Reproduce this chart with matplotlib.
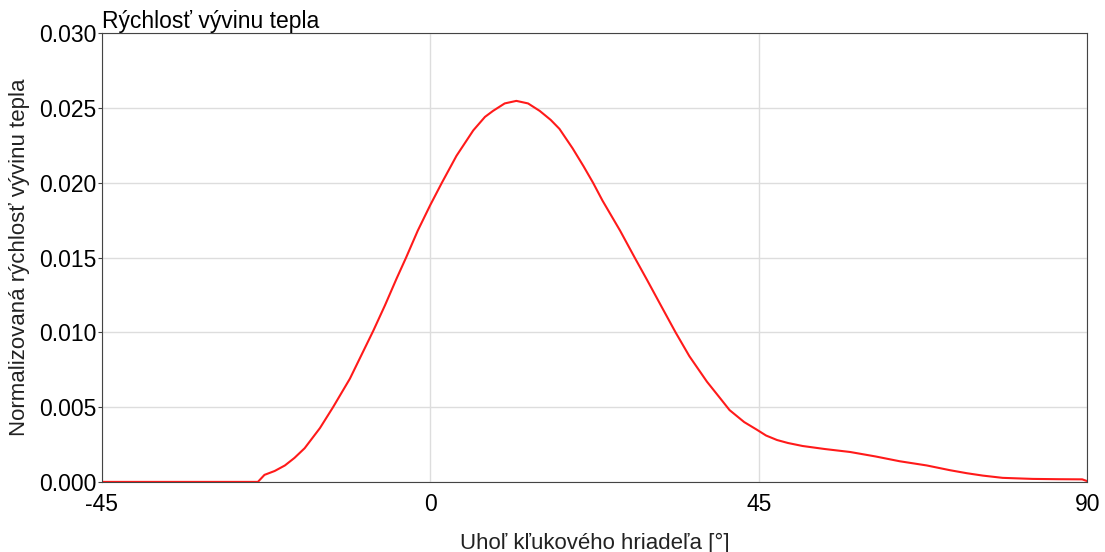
import numpy as np
import matplotlib.pyplot as plt

# crank angle [deg] and normalised heat release rate
angle = [-45, -23.6, -22.7, -21.3, -19.9, -18.6, -17.2, -15.1, -13.3, -11.0,
         -9.2, -7.8, -6.2, -4.6, -3.3, -1.7, 0.0, 1.6, 3.6, 5.9,
         7.5, 8.6, 10.2, 11.8, 13.4, 15.0, 16.5, 17.7, 19.5, 21.0,
         22.3, 23.6, 26.0, 28.0, 29.7, 31.7, 33.6, 35.5, 37.9, 39.7,
         41.0, 43.0, 44.7, 46.0, 47.5, 49.0, 51.0, 54.0, 57.5, 61.0,
         64.3, 68.0, 71.2, 73.5, 75.7, 78.4, 82.5, 86.0, 89.3, 90.0]
rate = [0.0, 0.0, 0.00047, 0.00073, 0.0011, 0.0016, 0.00225, 0.0036, 0.0050, 0.0069,
        0.0087, 0.0101, 0.0118, 0.0136, 0.0150, 0.0168, 0.0185, 0.0200, 0.0218, 0.0235,
        0.0244, 0.0248, 0.0253, 0.02547, 0.0253, 0.0248, 0.0242, 0.0236, 0.0223, 0.0211,
        0.0200, 0.0188, 0.0168, 0.0150, 0.0135, 0.0117, 0.0100, 0.0084, 0.0067, 0.0056,
        0.0048, 0.0040, 0.0035, 0.0031, 0.0028, 0.0026, 0.0024, 0.0022, 0.0020, 0.0017,
        0.00138, 0.0011, 0.00078, 0.00058, 0.00042, 0.00027, 0.0002, 0.00018, 0.00017, 0.00005]

x_ticks = [-45, 0, 45, 90]
y_ticks = [0.000, 0.005, 0.010, 0.015, 0.020, 0.025, 0.030]

plt.rcParams['font.family'] = ['Liberation Sans', 'DejaVu Sans']
plt.rcParams['axes.unicode_minus'] = False

fig, ax = plt.subplots(figsize=(11.05, 5.52), dpi=100)
ax.plot(angle, rate, color="#ff1a1a", linewidth=1.5)

ax.set_xlim(-45, 90)
ax.set_ylim(0, 0.030)
ax.set_xticks(x_ticks)
ax.set_yticks(y_ticks)
ax.set_yticklabels([f"{v:.3f}" for v in y_ticks])
ax.tick_params(labelsize=16.5, color="#444444")
ax.tick_params(axis="y", length=3, pad=1)
ax.tick_params(axis="x", length=0, pad=8)
ax.grid(True, color="#dddddd", linewidth=1)
ax.set_axisbelow(True)
for s in ax.spines.values():
    s.set_color("#444444")

ax.set_title("Rýchlosť vývinu tepla", loc="left", fontsize=16.5, pad=0)
ax.set_xlabel("Uhoľ kľukového hriadeľa [°]", fontsize=16, labelpad=12, color="#222222")
ax.set_ylabel("Normalizovaná rýchlosť vývinu tepla", fontsize=16, labelpad=6, color="#222222")

plt.subplots_adjust(left=0.092, right=0.984, top=0.94, bottom=0.127)
plt.savefig("out.png")
